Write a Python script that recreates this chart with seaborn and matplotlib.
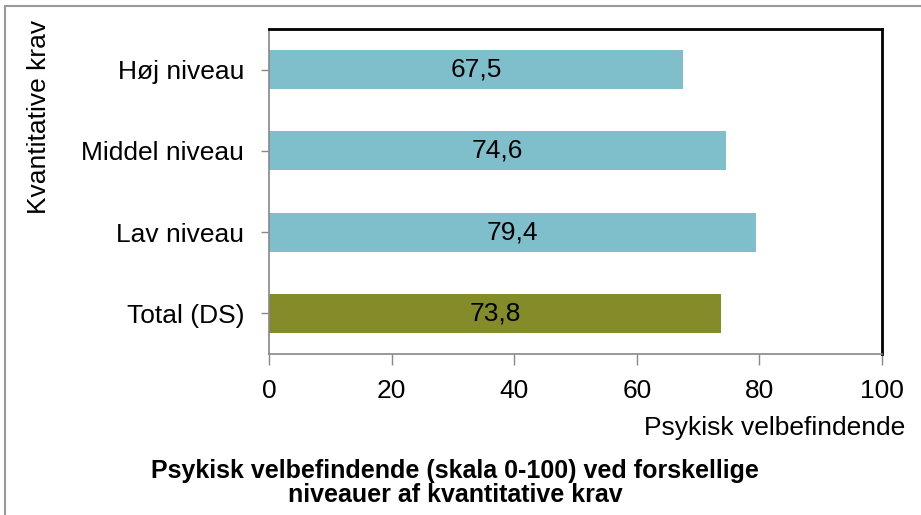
import numpy as np
import pandas as pd
import matplotlib
matplotlib.use("Agg")
import matplotlib.pyplot as plt
import seaborn as sns

# data
categories = ["Høj niveau", "Middel niveau", "Lav niveau", "Total (DS)"]
values = [67.5, 74.6, 79.4, 73.8]
bar_colors = ["#7fbfcc", "#7fbfcc", "#7fbfcc", "#838c28"]
x_ticks = [0, 20, 40, 60, 80, 100]

sns.set_theme(style="white")
plt.rcParams["font.family"] = ["Liberation Sans", "DejaVu Sans"]
plt.rcParams["text.color"] = "black"
plt.rcParams["xtick.color"] = "#888888"
plt.rcParams["ytick.color"] = "#888888"
plt.rcParams["xtick.labelcolor"] = "black"
plt.rcParams["ytick.labelcolor"] = "black"

df = pd.DataFrame({"kategori": categories, "vaerdi": values})

fig = plt.figure(figsize=(9.21, 5.15), dpi=100)
ax = fig.add_axes([269 / 921, 1 - 354 / 515, (882 - 269) / 921, (354 - 29) / 515])

sns.barplot(data=df, y="kategori", x="vaerdi", hue="kategori",
            palette=bar_colors, legend=False, width=0.48, saturation=1,
            orient="h", linewidth=0, ax=ax)

# value labels centred in the bars
for i, v in enumerate(values):
    ax.text(v / 2, i, f"{v:.1f}".replace(".", ","), ha="center", va="center",
            fontsize=19, color="black")

ax.set_xlim(0, 100)
ax.set_ylim(3.5, -0.5)
ax.set_xticks(x_ticks)
ax.set_xticklabels([str(t) for t in x_ticks], fontsize=19)
ax.tick_params(axis="y", labelsize=19, length=6, width=1,
               direction="out", left=True, pad=12)
ax.tick_params(axis="x", length=8, width=1, direction="out",
               bottom=True, pad=10)
ax.set_xlabel("")
ax.set_ylabel("")

for side in ["left", "bottom"]:
    ax.spines[side].set_color("#888888")
    ax.spines[side].set_linewidth(1.2)
for side in ["top", "right"]:
    ax.spines[side].set_color("black")
    ax.spines[side].set_linewidth(2)

# axis titles placed like the original
fig.text(905 / 921, 1 - 428 / 515, "Psykisk velbefindende", ha="right",
         va="center", fontsize=19)
fig.text(39 / 921, 1 - 117 / 515, "Kvantitative krav", rotation=90,
         ha="center", va="center", fontsize=19)

fig.text(455 / 921, 1 - 483 / 515,
         "Psykisk velbefindende (skala 0-100) ved forskellige\nniveauer af kvantitative krav",
         ha="center", va="center", fontsize=18, fontweight="bold", linespacing=1.02)

# outer chart border (cut at right and bottom as in the reference)
fig.add_artist(plt.Rectangle((5 / 921, -0.05), 1, 1 - 6 / 515 + 0.05,
                             transform=fig.transFigure, fill=False,
                             edgecolor="#999999", linewidth=1.5))

fig.savefig("out.png", dpi=100)
